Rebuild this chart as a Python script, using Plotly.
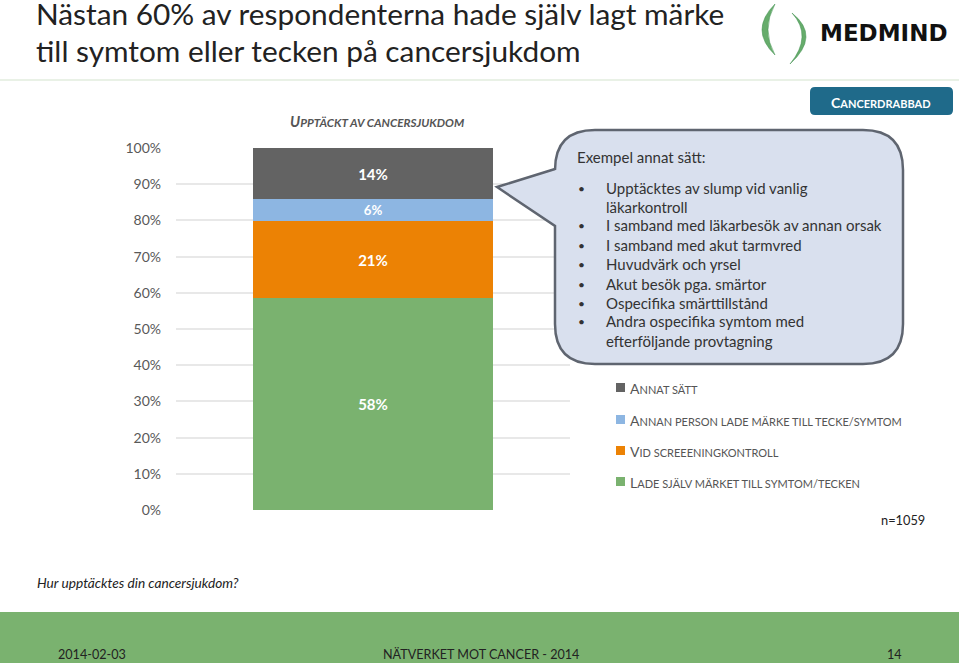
import plotly.graph_objects as go

W, H = 959, 663
L, R, T, B = 176, 570, 148, 510

category = ["Upptäckt av cancersjukdom"]
series_names = ["Lade själv märket till symtom/tecken", "Vid screeeningkontroll",
                "Annan person lade märke till tecke/symtom", "Annat sätt"]
series_values = [58, 21, 6, 14]
series_colors = ["#7AB26F", "#EC8204", "#8DB6E2", "#636363"]
y_ticks = [0, 10, 20, 30, 40, 50, 60, 70, 80, 90, 100]
y_labels = ["0%", "10%", "20%", "30%", "40%", "50%", "60%", "70%", "80%", "90%", "100%"]
legend_rows = [483, 452, 421, 389]
callout_lines = [
    ("Upptäcktes av slump vid vanlig", 188, True),
    ("läkarkontroll", 207, False),
    ("I samband med läkarbesök av annan orsak", 225, True),
    ("I samband med akut tarmvred", 245, True),
    ("Huvudvärk och yrsel", 264, True),
    ("Akut besök pga. smärtor", 284, True),
    ("Ospecifika smärttillstånd", 303, True),
    ("Andra ospecifika symtom med", 321, True),
    ("efterföljande provtagning", 341, False),
]

FONT = "Lato"
TXT = "#333333"

def X(p): return (p - L) / (R - L)
def Y(p): return (B - p) / (B - T)

def sc(text, big, small):
    out, buf, lower = "", "", None
    def flush():
        nonlocal out, buf
        if buf:
            size = small if lower else big
            out += f'<span style="font-size:{size}px">{buf.upper()}</span>'
            buf = ""
    for ch in text:
        is_low = ch.islower()
        if ch in " /":
            is_low = lower if lower is not None else False
        if lower is not None and is_low != lower:
            flush()
        lower = is_low
        buf += ch
    flush()
    return out

fig = go.Figure()
for name, v, c in zip(series_names, series_values, series_colors):
    fig.add_bar(x=category, y=[v], name=name, marker=dict(color=c, line_width=0),
                text=[f"<b>{v}%</b>"], textposition="inside", insidetextanchor="middle",
                textangle=0, textfont=dict(family=FONT, size=15, color="#FFFFFF"),
                hoverinfo="skip", showlegend=False)

shapes, ann = [], []

def rect(x0, y0, x1, y1, color, layer="below"):
    shapes.append(dict(type="rect", xref="paper", yref="paper", x0=X(x0), x1=X(x1), y0=Y(y0), y1=Y(y1),
                       fillcolor=color, line_width=0, layer=layer))

def path(points, fill, line=None, width=0):
    parts = []
    for cmd, *coords in points:
        s = cmd
        for i in range(0, len(coords), 2):
            s += f" {X(coords[i]):.5f},{Y(coords[i+1]):.5f}"
        parts.append(s)
    shapes.append(dict(type="path", xref="paper", yref="paper", path=" ".join(parts) + " Z",
                       fillcolor=fill, line=dict(color=line or fill, width=width), layer="above"))

def text(px, py, s, size=15, color=TXT, anchor="left", family=FONT):
    ann.append(dict(xref="paper", yref="paper", x=X(px), y=Y(py), text=s, showarrow=False,
                    xanchor=anchor, yanchor="middle", align=anchor, borderpad=0,
                    font=dict(family=family, size=size, color=color)))

# footer band and header rule
rect(0, 612, W, H, "#7AB26F")
rect(0, 79, W, 81, "#E9F1E6")

# logo crescents
path([("M", 775, 4), ("Q", 749, 30, 775, 55), ("Q", 761, 30, 775, 4)], "#66AC6B", "#3F8F4F", 0.5)
path([("M", 792, 13), ("Q", 821, 36, 790, 64), ("Q", 813, 36, 792, 13)], "#66AC6B", "#3F8F4F", 0.5)

# button
r = 5
path([("M", 810 + r, 87), ("L", 953 - r, 87), ("Q", 953, 87, 953, 87 + r), ("L", 953, 115 - r),
      ("Q", 953, 115, 953 - r, 115), ("L", 810 + r, 115), ("Q", 810, 115, 810, 115 - r),
      ("L", 810, 87 + r), ("Q", 810, 87, 810 + r, 87)], "#1F6A8A")

# callout
a, b, c, d, q = 555, 903, 130, 364, 40
path([("M", a + q, c), ("L", b - q, c), ("Q", b, c, b, c + q), ("L", b, d - q), ("Q", b, d, b - q, d),
      ("L", a + q, d), ("Q", a, d, a, d - q), ("L", a, 226), ("L", 497, 187), ("L", a, 169),
      ("L", a, c + q), ("Q", a, c, a + q, c)], "#D9E0EE", "#5F6570", 2.5)

text(576, 157, "Exempel annat sätt:", 15)
for s, py, bullet in callout_lines:
    text(605, py, s, 15)
    if bullet:
        text(577, py, "•", 12)

# legend
for name, col, py in zip(series_names, series_colors, legend_rows):
    rect(616, py - 6, 625, py + 3, col, "above")
    text(629, py - 1, sc(name, 14, 11), 14, "#555555")

text(289, 121, "<b><i>" + sc("Upptäckt av cancersjukdom", 14.7, 11.7) + "</i></b>", 14.7, "#555555")
text(881, 102, "<b>" + sc("Cancerdrabbad", 14, 11) + "</b>", 14, "#FFFFFF", "center")
text(883.5, 33, "<b>MEDMIND</b>", 23, "#111111", "center", "DejaVu Sans")
text(880, 520, "n=1059", 12.8, "#222222")
text(36, 582, "<i>Hur upptäcktes din cancersjukdom?</i>", 13.7, "#222222")
text(57, 654.5, "2014-02-03", 12.6, "#222222")
text(382, 654.5, "NÄTVERKET MOT CANCER - 2014", 12.6, "#222222")
text(886, 654.5, "14", 12.6, "#222222")

title_lines = ["Nästan 60% av respondenterna hade själv lagt märke",
               "till symtom eller tecken på cancersjukdom"]
title_text = "<br>".join(f'<span style="font-size:29.8px">{t}</span>' for t in title_lines)

fig.update_layout(
    width=W, height=H, autosize=False,
    margin=dict(l=L, r=W - R, t=T, b=H - B, pad=0),
    paper_bgcolor="white", plot_bgcolor="white",
    barmode="stack", barnorm="percent", bargap=1 - 240 / (R - L),
    title=dict(text=title_text,
               x=36 / W, xanchor="left", xref="container", y=1 - 25 / H, yanchor="middle",
               font=dict(family=FONT, size=28.5, color="#222222")),
    font=dict(family=FONT, size=14, color=TXT),
    xaxis=dict(showticklabels=False, ticks="", showgrid=False, zeroline=False, showline=False),
    yaxis=dict(range=[0, 100], tickmode="array", tickvals=y_ticks, ticktext=y_labels, ticks="",
               gridcolor="#E8E8E8", gridwidth=2, zeroline=False, showline=False, ticklabelstandoff=14,
               tickfont=dict(family=FONT, size=14, color="#595959")),
    showlegend=False,
    shapes=shapes, annotations=ann,
)
fig.write_html("out.html", config={"displayModeBar": False},
               post_script="document.body.style.margin='0';document.documentElement.style.overflow='hidden';")
